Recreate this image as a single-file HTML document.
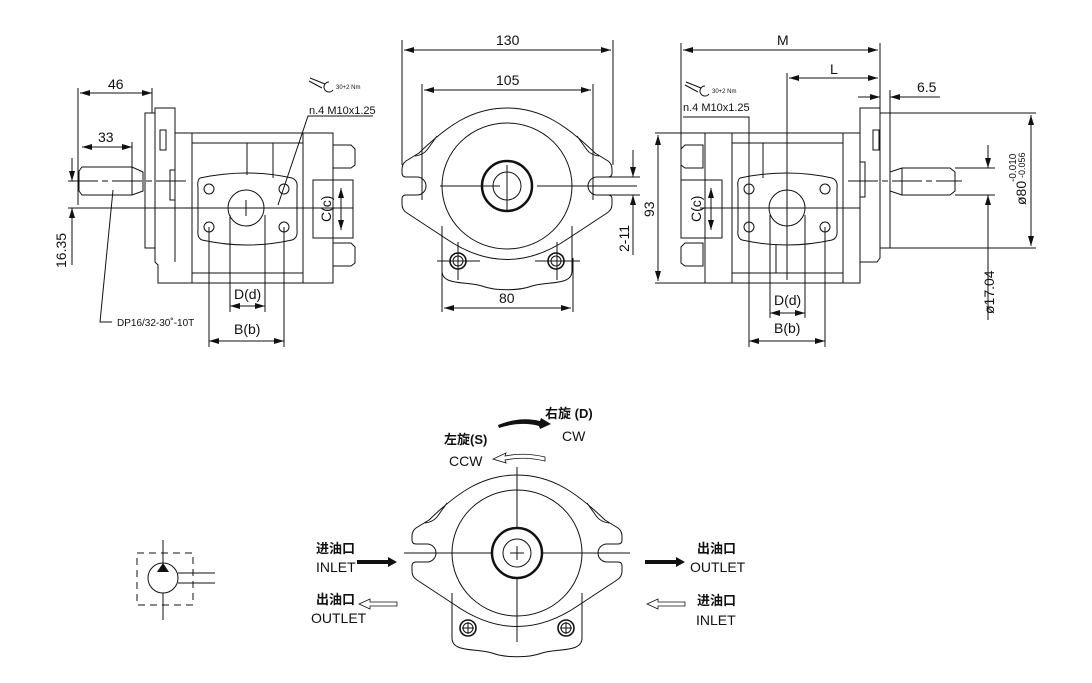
<!DOCTYPE html>
<html><head><meta charset="utf-8"><style>
html,body{margin:0;padding:0;background:#fff}
svg{display:block}
text{font-family:"Liberation Sans Narrow","Liberation Sans",sans-serif;fill:#111}
.c{font-family:"Liberation Sans","Noto Sans CJK SC",sans-serif;font-weight:bold}
</style></head><body>
<svg width="1092" height="683" viewBox="0 0 1092 683" xmlns="http://www.w3.org/2000/svg">
<defs>
<marker id="a" viewBox="0 0 10 6" refX="10" refY="3" markerWidth="10" markerHeight="6" orient="auto-start-reverse" markerUnits="userSpaceOnUse"><path d="M0,0 L10,3 L0,6z" fill="#111"/></marker>
<g id="face" fill="none" stroke="#111" stroke-width="1">
<path d="M-88,-33 C-60,-60 -35,-78 0,-78 C35,-78 60,-60 88,-33 L101,-25 Q105,-22 105,-17 L105,-13 Q105,-9 101,-9 L90,-9 A9,9 0 0 0 90,9 L101,9 Q105,9 105,13 L105,18 Q105,24 100,27 L62,52 Q0,95 -62,52 L-100,27 Q-105,24 -105,18 L-105,13 Q-105,9 -101,9 L-90,9 A9,9 0 0 0 -90,-9 L-101,-9 Q-105,-9 -105,-13 L-105,-17 Q-105,-22 -101,-25 Z"/>
<path d="M-70,-50 L-80,-36 Q-84,-31 -92,-30"/><path d="M70,-50 L80,-36 Q84,-31 92,-30"/>
<path d="M-65,40 L-65,85 C-65,100 -40,95 -25,100 C-12,105 12,105 25,100 C40,95 65,100 65,85 L65,40"/>
<ellipse cx="0" cy="0" rx="65" ry="63"/>
<circle cx="0" cy="0" r="25" stroke-width="2.5"/>
<circle cx="0" cy="0" r="14"/>
<circle cx="-49" cy="75" r="8" stroke-width="1.6"/><circle cx="-49" cy="75" r="5"/>
<circle cx="49" cy="75" r="8" stroke-width="1.6"/><circle cx="49" cy="75" r="5"/>
</g>
</defs>
<g fill="none" stroke="#111" stroke-width="1">
<!-- LEFT VIEW -->
<rect x="145" y="113" width="10" height="135"/>
<path d="M155,108 L175,108 L175,133 L333,133 L333,283 L158,283 L158,265 L155,262 Z"/>
<line x1="175" y1="133" x2="175" y2="262"/>
<line x1="192" y1="133" x2="192" y2="283"/><line x1="303" y1="133" x2="303" y2="283"/>
<line x1="192" y1="143" x2="303" y2="143"/><line x1="192" y1="273" x2="303" y2="273"/>
<line x1="247" y1="143" x2="247" y2="175"/><line x1="273" y1="143" x2="273" y2="178"/>
<rect x="170" y="170" width="5" height="30"/><rect x="160" y="130" width="6" height="20"/>
<rect x="313" y="180" width="40" height="58"/>
<path d="M333,145 h18 l4,4 v16 l-4,3 h-18z"/><path d="M333,243 h18 l4,4 v16 l-4,3 h-18z"/>
<path d="M82,167 L132,167 L143,172 L143,191 L132,195 L82,195 L79,191 L79,171 Z"/>
<line x1="132" y1="167" x2="132" y2="195"/>
<path d="M200,178 Q247,168 292,178 Q298,180 297,188 L297,230 Q298,238 292,240 Q247,250 202,240 Q197,238 198,230 L198,188 Q197,180 200,178 Z"/>
<circle cx="246" cy="208" r="18"/>
<circle cx="209" cy="189" r="5"/><circle cx="284" cy="189" r="5"/><circle cx="209" cy="227" r="5"/><circle cx="284" cy="227" r="5"/>
<line x1="68" y1="181" x2="190" y2="181" stroke-dasharray="30,4,6,4"/>
<line x1="68" y1="208" x2="353" y2="208"/>
<line x1="246" y1="200" x2="246" y2="216"/>
<line x1="78" y1="88" x2="78" y2="205"/><line x1="152" y1="88" x2="152" y2="113"/>
<line x1="80" y1="93" x2="152" y2="93" marker-start="url(#a)" marker-end="url(#a)"/>
<line x1="132" y1="142" x2="132" y2="167"/>
<line x1="82" y1="147" x2="132" y2="147" marker-start="url(#a)" marker-end="url(#a)"/>
<line x1="72" y1="158" x2="72" y2="181" marker-end="url(#a)"/><line x1="72" y1="265" x2="72" y2="208" marker-end="url(#a)"/>
<polyline points="113,190 100,322 112,322"/>
<line x1="209" y1="227" x2="209" y2="347"/><line x1="284" y1="227" x2="284" y2="347"/>
<line x1="230" y1="215" x2="230" y2="312"/><line x1="265" y1="215" x2="265" y2="312"/>
<line x1="230" y1="306" x2="265" y2="306" marker-start="url(#a)" marker-end="url(#a)"/>
<line x1="209" y1="341" x2="284" y2="341" marker-start="url(#a)" marker-end="url(#a)"/>
<line x1="341" y1="188" x2="341" y2="230" marker-start="url(#a)" marker-end="url(#a)"/>
<polyline points="373,116 308,116 278,205"/>
<path d="M310,78 L325,84 M309,81 L322,88" /><path d="M329,82 a5,5 0 1 0 4,8"/>
<!-- MIDDLE VIEW -->
<use href="#face" x="507" y="186"/>
<line x1="402" y1="40" x2="402" y2="165"/><line x1="613" y1="40" x2="613" y2="165"/>
<line x1="404" y1="50" x2="611" y2="50" marker-start="url(#a)" marker-end="url(#a)"/>
<line x1="422" y1="84" x2="422" y2="200"/><line x1="593" y1="84" x2="593" y2="200"/>
<line x1="424" y1="90" x2="591" y2="90" marker-start="url(#a)" marker-end="url(#a)"/>
<line x1="440" y1="186" x2="500" y2="186"/><line x1="537" y1="186" x2="637" y2="186"/>
<line x1="507" y1="165" x2="507" y2="210"/>
<line x1="442" y1="258" x2="442" y2="312"/><line x1="573" y1="258" x2="573" y2="312"/>
<line x1="444" y1="308" x2="571" y2="308" marker-start="url(#a)" marker-end="url(#a)"/>
<line x1="437" y1="261" x2="480" y2="261"/><line x1="535" y1="261" x2="580" y2="261"/>
<line x1="458" y1="242" x2="458" y2="280"/><line x1="557" y1="242" x2="557" y2="280"/>
<line x1="633" y1="150" x2="633" y2="177" marker-end="url(#a)"/><line x1="633" y1="255" x2="633" y2="195" marker-end="url(#a)"/>
<line x1="600" y1="177" x2="640" y2="177"/><line x1="600" y1="195" x2="640" y2="195"/>
<!-- RIGHT VIEW -->
<rect x="880" y="113" width="10" height="135"/>
<path d="M860,108 L880,108 L880,258 L877,262 L860,262 L860,283 L705,283 L705,133 L860,133 Z"/>
<line x1="860" y1="133" x2="860" y2="262"/>
<line x1="732" y1="133" x2="732" y2="283"/><line x1="843" y1="133" x2="843" y2="283"/>
<line x1="732" y1="143" x2="843" y2="143"/><line x1="732" y1="273" x2="843" y2="273"/>
<line x1="763" y1="143" x2="763" y2="178"/><line x1="776" y1="245" x2="776" y2="273"/>
<rect x="860" y="162" width="5" height="35"/><rect x="873" y="130" width="6" height="20"/>
<rect x="681" y="180" width="41" height="58"/>
<path d="M703,145 h-18 l-4,4 v16 l4,3 h18z"/><path d="M703,243 h-18 l-4,4 v16 l4,3 h18z"/>
<path d="M890,172 L902,168 L950,168 L955,172 L955,191 L950,195 L902,195 L890,191 Z"/>
<line x1="902" y1="168" x2="902" y2="195"/>
<path d="M740,178 Q787,168 832,178 Q838,180 837,188 L837,230 Q838,238 832,240 Q787,250 742,240 Q737,238 738,230 L738,188 Q737,180 740,178 Z"/>
<circle cx="787" cy="208" r="18"/>
<circle cx="749" cy="189" r="5"/><circle cx="825" cy="189" r="5"/><circle cx="749" cy="227" r="5"/><circle cx="825" cy="227" r="5"/>
<line x1="700" y1="208" x2="860" y2="208"/><line x1="848" y1="181" x2="962" y2="181" stroke-dasharray="30,4,6,4"/>
<line x1="787" y1="73" x2="787" y2="280"/>
<line x1="681" y1="43" x2="681" y2="180"/><line x1="880" y1="43" x2="880" y2="108"/>
<line x1="683" y1="50" x2="878" y2="50" marker-start="url(#a)" marker-end="url(#a)"/>
<line x1="789" y1="78" x2="878" y2="78" marker-start="url(#a)" marker-end="url(#a)"/>
<line x1="890" y1="90" x2="890" y2="113"/>
<line x1="858" y1="97" x2="880" y2="97" marker-end="url(#a)"/><line x1="940" y1="97" x2="890" y2="97" marker-end="url(#a)"/>
<line x1="655" y1="133" x2="705" y2="133"/><line x1="655" y1="283" x2="705" y2="283"/>
<line x1="658" y1="135" x2="658" y2="281" marker-start="url(#a)" marker-end="url(#a)"/>
<line x1="890" y1="113" x2="1036" y2="113"/><line x1="890" y1="248" x2="1036" y2="248"/>
<line x1="1031" y1="115" x2="1031" y2="246" marker-start="url(#a)" marker-end="url(#a)"/>
<line x1="955" y1="168" x2="995" y2="168"/><line x1="955" y1="195" x2="995" y2="195"/>
<line x1="988" y1="145" x2="988" y2="168" marker-end="url(#a)"/><line x1="988" y1="320" x2="988" y2="195" marker-end="url(#a)"/>
<line x1="749" y1="227" x2="749" y2="347"/><line x1="825" y1="227" x2="825" y2="347"/>
<line x1="770" y1="215" x2="770" y2="318"/><line x1="805" y1="215" x2="805" y2="318"/>
<line x1="770" y1="313" x2="805" y2="313" marker-start="url(#a)" marker-end="url(#a)"/>
<line x1="749" y1="341" x2="825" y2="341" marker-start="url(#a)" marker-end="url(#a)"/>
<line x1="711" y1="188" x2="711" y2="230" marker-start="url(#a)" marker-end="url(#a)"/>
<polyline points="683,117 749,117 749,227"/>
<path d="M686,82 L701,88 M685,85 L698,92"/><path d="M705,86 a5,5 0 1 0 4,8"/>
<!-- BOTTOM VIEW -->
<use href="#face" x="517" y="553"/>
<line x1="404" y1="553" x2="492" y2="553"/><line x1="542" y1="553" x2="630" y2="553"/>
<line x1="517" y1="467" x2="517" y2="528"/><line x1="517" y1="578" x2="517" y2="642"/>
<line x1="510" y1="553" x2="524" y2="553"/><line x1="517" y1="546" x2="517" y2="560"/>
<line x1="462" y1="628" x2="474" y2="628"/><line x1="468" y1="622" x2="468" y2="634"/>
<line x1="560" y1="628" x2="572" y2="628"/><line x1="566" y1="622" x2="566" y2="634"/>
<!-- symbol -->
<rect x="137" y="553" width="56" height="52" stroke-dasharray="7,5"/>
<circle cx="163" cy="578" r="15" fill="#fff"/>
<line x1="163" y1="540" x2="163" y2="563"/><line x1="163" y1="593" x2="163" y2="620"/>
<path d="M178,573 H215 M178,583 H215"/>
</g>
<path d="M157,572 L163,563 L169,572Z" fill="#111"/>
<!-- port arrows -->
<path d="M357,560 H388 V557 L397,562 L388,567 V564 H357Z" fill="#111"/>
<path d="M645,560 H676 V557 L685,562 L676,567 V564 H645Z" fill="#111"/>
<path d="M397,602 H370 V599 L359,604 L370,609 V606 H397Z" fill="#fff" stroke="#111" stroke-width="0.8"/>
<path d="M685,602 H658 V599 L647,604 L658,609 V606 H685Z" fill="#fff" stroke="#111" stroke-width="0.8"/>
<path d="M498,425 Q520,416 540,421 L541,418 L551,424 L540,429 L539,426 Q520,421 499,428Z" fill="#111"/>
<path d="M545,457 Q525,452 505,456 L506,453 L493,459 L506,463 L505,460 Q525,456 545,461Z" fill="#fff" stroke="#111" stroke-width="0.8"/>
<!-- TEXT -->
<g font-size="14">
<text x="108" y="89">46</text><text x="98" y="142">33</text>
<text x="66" y="268" transform="rotate(-90 66 268)">16.35</text>
<text x="234" y="299">D(d)</text><text x="234" y="334">B(b)</text>
<text x="331" y="222" transform="rotate(-90 331 222)">C(c)</text>
<text x="496" y="45">130</text><text x="496" y="85">105</text><text x="499" y="303">80</text>
<text x="654" y="217" transform="rotate(-90 654 217)">93</text>
<text x="629" y="252" transform="rotate(-90 629 252)">2-11</text>
<text x="777" y="45">M</text><text x="830" y="74">L</text><text x="917" y="92">6.5</text>
<text x="774" y="305">D(d)</text><text x="774" y="333">B(b)</text>
<text x="701" y="222" transform="rotate(-90 701 222)">C(c)</text>
<text x="994" y="314" transform="rotate(-90 994 314)">ø17.04</text>
<text x="1026" y="205" transform="rotate(-90 1026 205)">ø80</text>
<text x="562" y="441">CW</text><text x="449" y="466">CCW</text>
<text x="316" y="572">INLET</text><text x="311" y="623">OUTLET</text>
<text x="690" y="572">OUTLET</text><text x="696" y="625">INLET</text>
</g>
<g font-size="10">
<text x="1016" y="182" transform="rotate(-90 1016 182)">-0.010</text>
<text x="1027" y="182" transform="rotate(-90 1027 182)" font-size="9"> </text>
<text x="1025" y="178" transform="rotate(-90 1025 178)" font-size="9">-0.056</text>
<text x="117" y="326" font-size="10">DP16/32-30˚-10T</text>
<text x="309" y="114" font-size="11">n.4  M10x1.25</text>
<text x="683" y="111" font-size="11">n.4  M10x1.25</text>
<text x="336" y="89" font-size="6">30+2 Nm</text>
<text x="712" y="93" font-size="6">30+2 Nm</text>
</g>
<g font-size="13" class="c">
<text class="c" x="545" y="418">右旋 (D)</text>
<text class="c" x="444" y="444">左旋(S)</text>
<text class="c" x="316" y="553">进油口</text>
<text class="c" x="316" y="604">出油口</text>
<text class="c" x="697" y="553">出油口</text>
<text class="c" x="697" y="605">进油口</text>
</g>
</svg>
</body></html>
